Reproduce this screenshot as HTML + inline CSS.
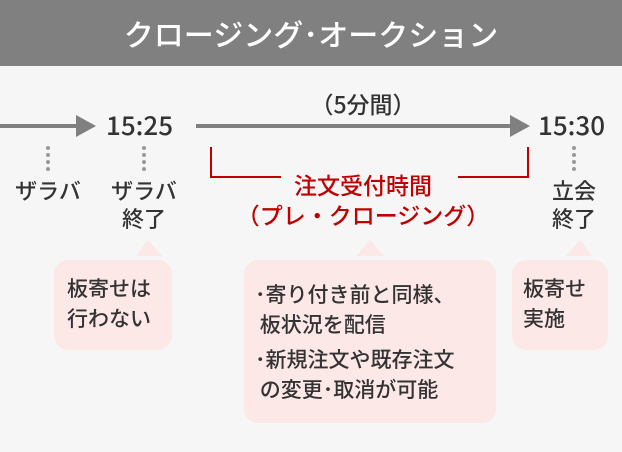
<!DOCTYPE html>
<html><head><meta charset="utf-8"><style>
*{margin:0;padding:0}
body{width:622px;height:452px;background:#f6f6f6;position:relative;overflow:hidden;font-family:"Noto Sans CJK JP",sans-serif;color:#333;font-weight:500}
.a{position:absolute;white-space:nowrap}
.hd{left:0;top:0;width:622px;height:66px;background:#808080;color:#fff;font-size:30px;line-height:66px;text-align:center;letter-spacing:0px}
.t{font-size:26px;line-height:30px;color:#333}
.l{font-size:22px;line-height:28px;text-align:center}
.r{color:#c00000;font-size:23px;line-height:30px;text-align:center;font-weight:500}
.b{background:#fde8e8;border-radius:14px}
.bt{font-size:21px;line-height:30px;color:#333}
</style></head><body>
<div class="a hd">クロージング･オークション</div>
<svg class="a" style="left:0;top:0" width="622" height="452">
<line x1="0" y1="126" x2="80" y2="126" stroke="#808080" stroke-width="4"/>
<polygon points="76,115 96,126 76,137" fill="#808080"/>
<line x1="196" y1="126" x2="512" y2="126" stroke="#808080" stroke-width="4"/>
<polygon points="510,115 530,126 510,137" fill="#808080"/>
<g fill="#999"><circle cx="48" cy="148" r="2"/><circle cx="48" cy="155" r="2"/><circle cx="48" cy="162" r="2"/><circle cx="48" cy="169" r="2"/>
<circle cx="144" cy="148" r="2"/><circle cx="144" cy="155" r="2"/><circle cx="144" cy="162" r="2"/><circle cx="144" cy="169" r="2"/>
<circle cx="574" cy="148" r="2"/><circle cx="574" cy="155" r="2"/><circle cx="574" cy="162" r="2"/><circle cx="574" cy="169" r="2"/></g>
<polyline points="211,147 211,177 281,177" fill="none" stroke="#c00000" stroke-width="2"/>
<polyline points="528,147 528,177 458,177" fill="none" stroke="#c00000" stroke-width="2"/>
<g fill="#fde8e8"><polygon points="136,256 148,240 162,256"/><polygon points="356,256 370,240 384,256"/><polygon points="566,256 580,240 592,256"/></g>
</svg>
<div class="a t" style="left:106px;top:110px">15:25</div>
<div class="a t" style="left:538px;top:110px">15:30</div>
<div class="a t" style="left:303px;top:88px;width:120px;text-align:center;font-size:23px">（5分間）</div>
<div class="a l" style="left:8px;top:176px;width:80px">ザラバ</div>
<div class="a l" style="left:104px;top:176px;width:80px">ザラバ<br>終了</div>
<div class="a l" style="left:534px;top:176px;width:80px">立会<br>終了</div>
<div class="a r" style="left:223px;top:169px;width:280px">注文受付時間<br>（プレ・クロージング）</div>
<div class="a b" style="left:54px;top:260px;width:118px;height:90px"></div>
<div class="a b" style="left:244px;top:260px;width:252px;height:163px"></div>
<div class="a b" style="left:512px;top:260px;width:96px;height:90px"></div>
<div class="a bt" style="left:67px;top:273px">板寄せは<br>行わない</div>
<div class="a bt" style="left:523px;top:273px">板寄せ<br>実施</div>
<div class="a bt" style="left:255px;top:279px">･寄り付き前と同様、<br>&nbsp;板状況を配信</div>
<div class="a bt" style="left:255px;top:344px">･新規注文や既存注文<br>&nbsp;の変更･取消が可能</div>
</body></html>
